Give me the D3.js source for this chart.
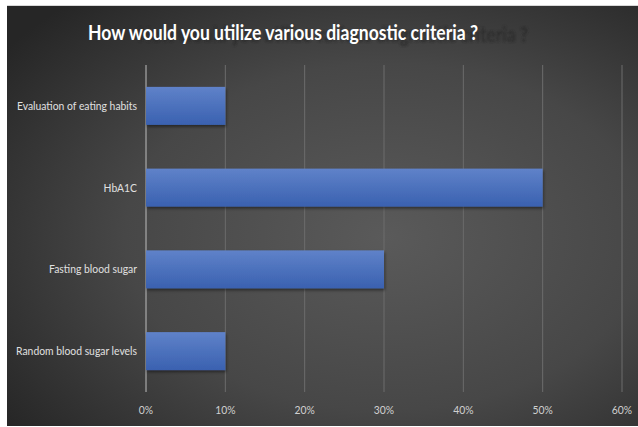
<!DOCTYPE html>
<html><head><meta charset="utf-8">
<script src="https://cdn.jsdelivr.net/npm/d3@7"></script>
<style>body{margin:0;background:#fff;}svg{display:block;}</style>
</head><body>
<svg id="c" width="638" height="427"></svg>
<script>
const categories = ["Evaluation of eating habits", "HbA1C", "Fasting blood sugar", "Random blood sugar levels"];
const values = [10, 50, 30, 10];
const tickValues = [0, 10, 20, 30, 40, 50, 60];
const tickLabels = ["0%", "10%", "20%", "30%", "40%", "50%", "60%"];
const title = "How would you utilize various diagnostic criteria ?";

const svg = d3.select("#c");
const defs = svg.append("defs");
const bg = defs.append("radialGradient").attr("id","bg").attr("cx","0.6").attr("cy","0.55").attr("r","0.75");
bg.append("stop").attr("offset","0").attr("stop-color","#5a5a5a");
bg.append("stop").attr("offset","0.55").attr("stop-color","#474747");
bg.append("stop").attr("offset","1").attr("stop-color","#262626");
const bar = defs.append("linearGradient").attr("id","bar").attr("x1",0).attr("y1",0).attr("x2",0).attr("y2",1);
bar.append("stop").attr("offset","0").attr("stop-color","#5f82c9");
bar.append("stop").attr("offset","1").attr("stop-color","#3a61b0");
const sh = defs.append("filter").attr("id","sh").attr("x","-10%").attr("y","-20%").attr("width","120%").attr("height","160%");
sh.append("feDropShadow").attr("dx",1).attr("dy",2).attr("stdDeviation",1.5).attr("flood-color","#000").attr("flood-opacity",0.45);
const blur = defs.append("filter").attr("id","blur");
blur.append("feGaussianBlur").attr("stdDeviation",0.8);

svg.append("rect").attr("x",0).attr("y",0).attr("width",638).attr("height",427).attr("fill","#fff");
svg.append("line").attr("x1",7).attr("x2",638).attr("y1",5.5).attr("y2",5.5).attr("stroke","#d8d8d8");
svg.append("rect").attr("x",7).attr("y",6).attr("width",631).attr("height",420).attr("fill","url(#bg)");

const x = d3.scaleLinear().domain([0, 60]).range([146, 622]);
const y = d3.scaleBand().domain(categories).range([65, 392]).paddingInner(0.535).paddingOuter(0.2675);

svg.append("g").selectAll("line").data(tickValues.slice(1)).join("line")
  .attr("x1", d => x(d)).attr("x2", d => x(d)).attr("y1", 65).attr("y2", 392)
  .attr("stroke", "#6c6c6c").attr("stroke-width", 1);
svg.append("line").attr("x1", x(0)).attr("x2", x(0)).attr("y1", 65).attr("y2", 392)
  .attr("stroke", "#bdbdbd").attr("stroke-width", 1);

svg.append("text").attr("x", 138).attr("y", 42).text(title)
  .attr("font-family","Lato, 'Open Sans', sans-serif").attr("font-weight","bold").attr("font-size",21)
  .attr("textLength", 390).attr("lengthAdjust","spacingAndGlyphs")
  .attr("fill","#2a2a2a").attr("opacity",0.8).attr("filter","url(#blur)");
svg.append("text").attr("x", 88).attr("y", 40).text(title)
  .attr("font-family","Lato, 'Open Sans', sans-serif").attr("font-weight","bold").attr("font-size",20)
  .attr("textLength", 390).attr("lengthAdjust","spacingAndGlyphs")
  .attr("fill","#ffffff");

svg.append("g").selectAll("rect").data(categories).join("rect")
  .attr("x", x(0)).attr("y", d => y(d))
  .attr("width", (d,i) => x(values[i]) - x(0)).attr("height", y.bandwidth())
  .attr("fill","url(#bar)").attr("filter","url(#sh)");

const cl = svg.append("g").selectAll("text").data(categories).join("text")
  .attr("x", 137).attr("y", d => y(d) + y.bandwidth()/2).attr("dy","0.35em")
  .attr("text-anchor","end").text(d => d)
  .attr("font-family","Lato, sans-serif").attr("font-size",11.5).attr("fill","#e0e0e0");
cl.each(function(){ const w = this.getComputedTextLength(); d3.select(this).attr("textLength", w*0.9).attr("lengthAdjust","spacingAndGlyphs"); });

const tl = svg.append("g").selectAll("text").data(tickValues).join("text")
  .attr("x", d => x(d)).attr("y", 410).attr("dy","0.35em").attr("text-anchor","middle")
  .text((d,i) => tickLabels[i])
  .attr("font-family","Lato, sans-serif").attr("font-size",11.5).attr("fill","#d0d0d0");
tl.each(function(){ const w = this.getComputedTextLength(); d3.select(this).attr("textLength", w*0.9).attr("lengthAdjust","spacingAndGlyphs"); });
</script>
</body></html>
